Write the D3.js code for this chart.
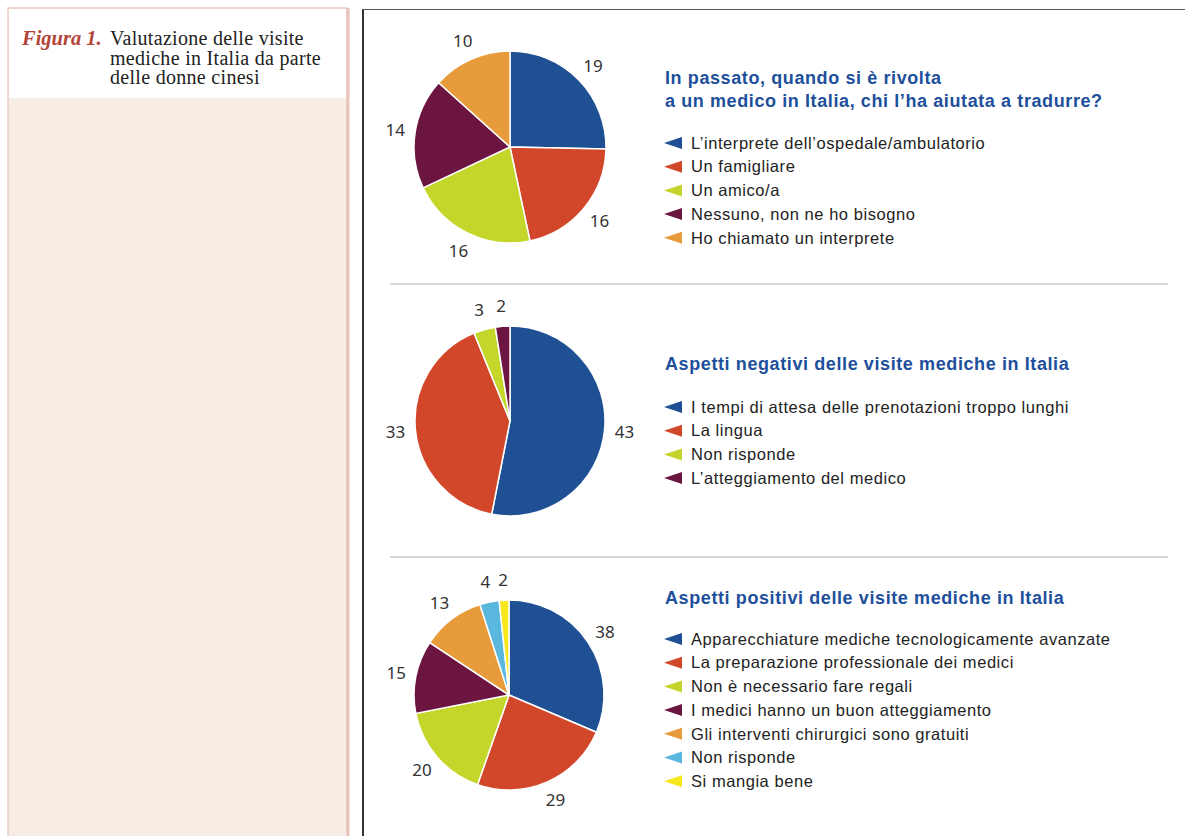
<!DOCTYPE html>
<html>
<head>
<meta charset="utf-8">
<script src="https://cdn.jsdelivr.net/npm/d3@7"></script>
<style>
body{margin:0;background:#fff;}
#canvas{width:1185px;height:836px;}
</style>
</head>
<body>
<div id="canvas"></div>
<script>
// data
var titles1 = ['In passato, quando si è rivolta','a un medico in Italia, chi l’ha aiutata a tradurre?'];
var labels1 = ['L’interprete dell’ospedale/ambulatorio','Un famigliare','Un amico/a','Nessuno, non ne ho bisogno','Ho chiamato un interprete'];
var values1 = [19,16,16,14,10];

var titles2 = ['Aspetti negativi delle visite mediche in Italia'];
var labels2 = ['I tempi di attesa delle prenotazioni troppo lunghi','La lingua','Non risponde','L’atteggiamento del medico'];
var values2 = [43,33,3,2];

var titles3 = ['Aspetti positivi delle visite mediche in Italia'];
var labels3 = ['Apparecchiature mediche tecnologicamente avanzate','La preparazione professionale dei medici','Non è necessario fare regali','I medici hanno un buon atteggiamento','Gli interventi chirurgici sono gratuiti','Non risponde','Si mangia bene'];
var values3 = [38,29,20,15,13,4,2];

var colors = ['#1f5094','#d2472a','#c4d62a','#6d1541','#e89b3b','#5ab8df','#f7e81e'];

var width = 1185, height = 836;

var svg = d3.select('#canvas')
    .append('svg')
    .attr('width',width)
    .attr('height',height);

//left panel
svg.append('rect')
    .attr('x',8).attr('y',8)
    .attr('width',339).attr('height',840)
    .style('fill','#f7ede5')
    .style('stroke','#e8cbc3')
    .style('stroke-width','1.5px');
svg.append('rect')
    .attr('x',9).attr('y',9)
    .attr('width',337).attr('height',89)
    .style('fill','#fff');
svg.append('line')
    .attr('x1',348).attr('x2',348)
    .attr('y1',8).attr('y2',836)
    .style('stroke','#e8c4bb')
    .style('stroke-width','3px');

svg.append('text')
    .attr('x',22).attr('y',45)
    .style('font-family','Liberation Serif')
    .style('font-size','20.5px')
    .style('font-style','italic')
    .style('font-weight','bold')
    .style('fill','#b4453a')
    .text('Figura 1.');
var capLines = ['Valutazione delle visite','mediche in Italia da parte','delle donne cinesi'];
var cap = svg.append('text')
    .attr('x',110).attr('y',45)
    .style('font-family','Liberation Serif')
    .style('font-size','20px')
    .style('letter-spacing','0.3px')
    .style('fill','#222');
capLines.forEach(function(t,i){
    cap.append('tspan')
        .attr('x',110)
        .attr('dy',i===0 ? 0 : 19.7)
        .text(t);
});

//right frame
svg.append('line')
    .attr('x1',363).attr('x2',363)
    .attr('y1',9).attr('y2',836)
    .style('stroke','#333')
    .style('stroke-width','2px');
svg.append('line')
    .attr('x1',362).attr('x2',1185)
    .attr('y1',9.5).attr('y2',9.5)
    .style('stroke','#555')
    .style('stroke-width','1px');

//separators
[284,557].forEach(function(y){
    svg.append('line')
        .attr('x1',390).attr('x2',1168)
        .attr('y1',y).attr('y2',y)
        .style('stroke','#c8c8c8')
        .style('stroke-width','1.5px');
});

var pie = d3.pie().sort(null).value(function(d){return d;});

function drawPanel(cx,cy,r,values,titles,labels,titleY,legendY){
    var g = svg.append('g').attr('transform','translate('+cx+','+cy+')');
    var arc = d3.arc().innerRadius(0).outerRadius(r);
    var labelArc = d3.arc().innerRadius(r+20).outerRadius(r+20);
    var arcs = pie(values);
    g.selectAll('path').data(arcs).enter()
        .append('path')
        .attr('d',arc)
        .style('fill',function(d,i){return colors[i];})
        .style('stroke','#fff')
        .style('stroke-width','1.5px');
    g.selectAll('text').data(arcs).enter()
        .append('text')
        .attr('transform',function(d){return 'translate('+labelArc.centroid(d)+')';})
        .attr('text-anchor','middle')
        .attr('dy','0.35em')
        .style('font-family','Noto Sans')
        .style('font-size','17px')
        .style('fill','#333')
        .text(function(d){return d.value;});

    titles.forEach(function(t,i){
        svg.append('text')
            .attr('x',665).attr('y',titleY+i*23)
            .style('font-family','Liberation Sans')
            .style('font-size','18px')
            .style('letter-spacing','0.6px')
            .style('font-weight','bold')
            .style('fill','#1d4f9b')
            .text(t);
    });

    var step = 23.7;
    labels.forEach(function(t,i){
        var y = legendY+i*step;
        var p = d3.path();
        p.moveTo(664,y);
        p.lineTo(682,y-6);
        p.lineTo(682,y+6);
        p.closePath();
        svg.append('path').attr('d',p.toString())
            .style('fill',colors[i]);
        svg.append('text')
            .attr('x',691).attr('y',y)
            .attr('dy','0.35em')
            .style('font-family','Liberation Sans')
            .style('font-size','16.5px')
            .style('letter-spacing','0.55px')
            .style('fill','#222')
            .text(t);
    });
}

drawPanel(510,147,96,values1,titles1,labels1,84,143);
drawPanel(510,421,95,values2,titles2,labels2,370,407);
drawPanel(509,695,95,values3,titles3,labels3,604,639);
</script>
</body>
</html>
